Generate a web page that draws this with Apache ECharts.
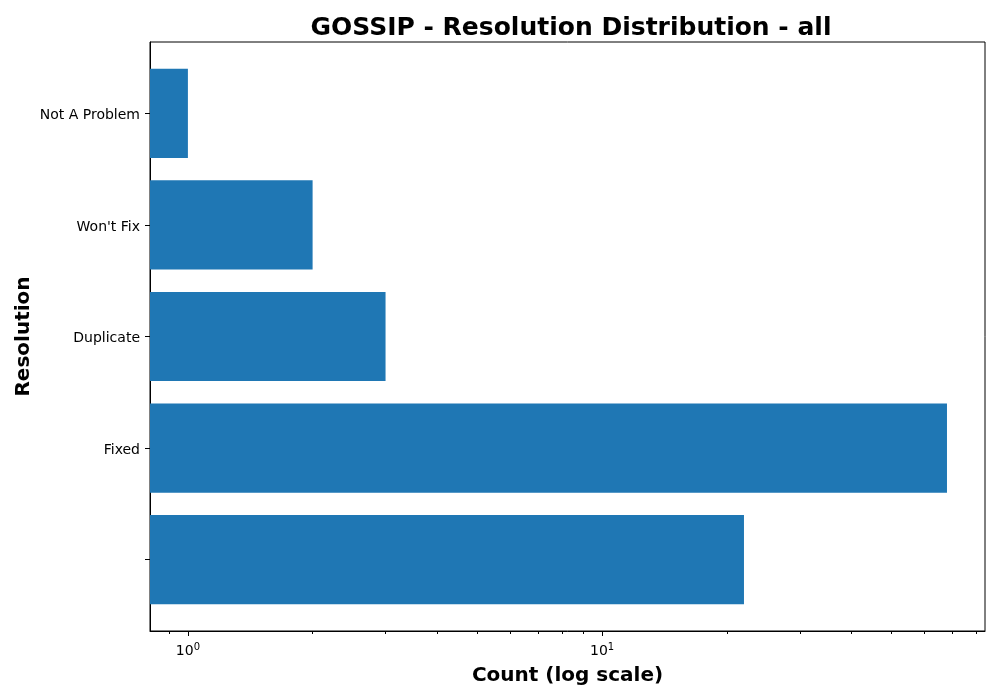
<!DOCTYPE html>
<html>
<head>
<meta charset="utf-8">
<script src="https://cdn.jsdelivr.net/npm/echarts@6/dist/echarts.min.js"></script>
<style>html,body{margin:0;padding:0;background:#fff}#c{width:1000px;height:700px}</style>
</head>
<body>
<div id="c"></div>
<script>
var categories = ["", "Fixed", "Duplicate", "Won't Fix", "Not A Problem"];
var counts = [22, 68, 3, 2, 1];
var majorTicks = [1, 10];
var minorTicks = [0.9, 2, 3, 4, 5, 6, 7, 8, 9, 20, 30, 40, 50, 60, 70, 80];
var xMin = 0.81, xMax = 84;

var FONT = 'DejaVu Sans';
var chart = echarts.init(document.getElementById('c'));
var data = counts.map(function (v, i) { return [v, i]; });

chart.setOption({
  animation: false,
  textStyle: { fontFamily: FONT },
  title: {
    text: 'GOSSIP - Resolution Distribution - all',
    left: 566, top: 11, textAlign: 'center',
    textStyle: { fontFamily: FONT, fontSize: 25, fontWeight: 'bold', color: '#000' }
  },
  grid: { left: 150, right: 15, top: 42, bottom: 69, show: true, borderColor: '#000', borderWidth: 1, backgroundColor: '#fff' },
  xAxis: [{
    type: 'log', logBase: 10, min: xMin, max: xMax,
    name: 'Count (log scale)', nameLocation: 'middle', nameGap: 35,
    nameTextStyle: { fontFamily: FONT, fontSize: 20, fontWeight: 'bold', color: '#000' },
    axisLine: { show: true, onZero: false, lineStyle: { color: '#000', width: 1 } },
    axisTick: { show: true, customValues: majorTicks, length: 5, lineStyle: { color: '#000' } },
    axisLabel: {
      customValues: majorTicks, margin: 11, color: '#000', fontFamily: FONT, fontSize: 14,
      formatter: function (v) { return '10{sup|' + Math.round(Math.log10(v)) + '}'; },
      rich: { sup: { fontSize: 10, verticalAlign: 'top', padding: [0, 0, 8, 0], fontFamily: FONT, color: '#000' } }
    },
    splitLine: { show: false }, minorTick: { show: false }
  }, {
    type: 'log', logBase: 10, min: xMin, max: xMax, position: 'bottom',
    axisLine: { show: false, onZero: false },
    axisTick: { show: true, customValues: minorTicks, length: 3, lineStyle: { color: '#000' } },
    axisLabel: { show: false },
    splitLine: { show: false }
  }],
  yAxis: {
    type: 'value', min: -0.64, max: 4.64,
    name: 'Resolution', nameLocation: 'middle', nameGap: 116, nameRotate: 90,
    nameMoveOverlap: false,
    nameTextStyle: { fontFamily: FONT, fontSize: 20, fontWeight: 'bold', color: '#000' },
    axisLine: { show: true, onZero: false, lineStyle: { color: '#000', width: 1 } },
    axisTick: { show: true, customValues: [0, 1, 2, 3, 4], length: 5, lineStyle: { color: '#000' } },
    axisLabel: {
      customValues: [0, 1, 2, 3, 4], margin: 10, color: '#000', fontFamily: FONT, fontSize: 14,
      formatter: function (v) { return '{a|' + categories[Math.round(v)] + '}'; },
      rich: { a: { fontFamily: FONT, fontSize: 14, color: '#000', padding: [4, 0, 0, 0] } }
    },
    splitLine: { show: false }
  },
  series: [{
    type: 'custom',
    xAxisIndex: 0, yAxisIndex: 0,
    data: data,
    encode: { x: 0, y: 1 },
    clip: true,
    renderItem: function (params, api) {
      var v = api.value(0), idx = api.value(1);
      var top = api.coord([v, idx + 0.4]);
      var bot = api.coord([v, idx - 0.4]);
      var start = api.coord([xMin, idx]);
      return {
        type: 'rect',
        shape: { x: start[0], y: top[1], width: top[0] - start[0], height: bot[1] - top[1] },
        style: { fill: '#1f77b4' }
      };
    }
  }]
});
</script>
</body>
</html>
